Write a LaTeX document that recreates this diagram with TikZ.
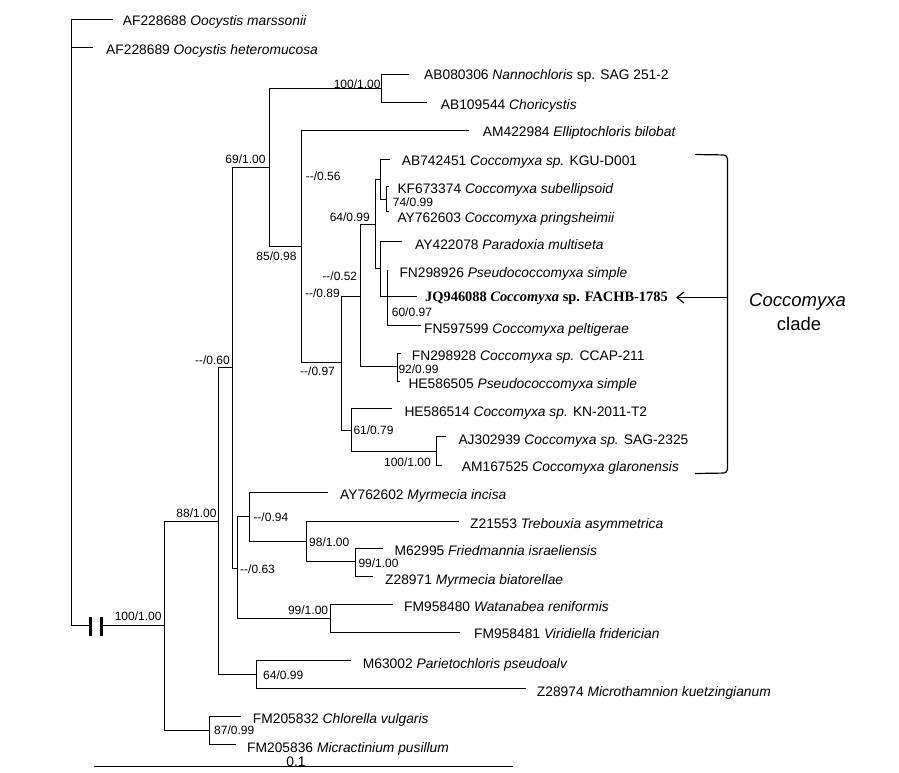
\documentclass[tikz,border=0pt]{standalone}
\usepackage{fontspec}
\setmainfont{Liberation Sans}
\newfontfamily\timesf{Liberation Serif}
\usetikzlibrary{arrows.meta}
\begin{document}
\begin{tikzpicture}[x=1pt,y=-1pt,
  treeline/.style={line width=1.6pt, line cap=rect},
  leaflabel/.style={anchor=west, inner sep=0pt, font=\fontsize{13.8}{16}\selectfont, text height=10pt, text depth=0pt},
  supp/.style={inner sep=0pt, font=\fontsize{12}{14}\selectfont, text height=8.6pt, text depth=0pt},
  cladetext/.style={inner sep=0pt, font=\fontsize{18.5}{22}\selectfont}]
\useasboundingbox (0,0) rectangle (899,773);
% ---------- internal nodes ----------
\coordinate (root) at (71.5,625.5);
\coordinate (brkA) at (90.5,625.5);
\coordinate (brkB) at (101.5,625.5);
\coordinate (nA) at (164.5,625.5);
\coordinate (nB) at (218.5,521.5);
\coordinate (nC) at (209.5,730.5);
\coordinate (nD) at (232.5,367.5);
\coordinate (nP) at (256.5,674.5);
\coordinate (nI) at (269.5,167.5);
\coordinate (nE) at (237.5,568.5);
\coordinate (nJ) at (381.5,88.5);
\coordinate (nK) at (301.5,246.5);
\coordinate (nL) at (341.5,362.5);
\coordinate (nM) at (360.5,296.5);
\coordinate (nO) at (375.5,224.5);
\coordinate (nQ) at (380.5,179.5);
\coordinate (nS) at (386.5,199.5);
\coordinate (nT) at (380.5,268.5);
\coordinate (nU) at (387.5,296.5);
\coordinate (nN) at (397.5,366.5);
\coordinate (nR) at (351.5,430.5);
\coordinate (nV) at (436.5,451.5);
\coordinate (nF) at (249.5,516.5);
\coordinate (nG) at (306.5,541.5);
\coordinate (nH) at (355.5,561.5);
\coordinate (nW) at (330.5,618.5);
% ---------- leaf ends ----------
\coordinate (l1) at (112.5,19.5);
\coordinate (l2) at (92.5,47.5);
\coordinate (l3) at (408.5,74.5);
\coordinate (l4) at (426.5,102.5);
\coordinate (l5) at (468.5,130.5);
\coordinate (l6) at (389.5,159.5);
\coordinate (l7) at (388.5,186.5);
\coordinate (l8) at (388.5,211.5);
\coordinate (l9) at (401.5,241.5);
\coordinate (l10) at (387.5,270.5);
\coordinate (l11) at (416.5,296.5);
\coordinate (l12) at (420.5,325.5);
\coordinate (l13) at (400.5,353.5);
\coordinate (l14) at (399.5,381.5);
\coordinate (l15) at (391.5,408.5);
\coordinate (l16) at (445.5,436.5);
\coordinate (l17) at (441.5,465.5);
\coordinate (l18) at (327.5,492.5);
\coordinate (l19) at (458.5,521.5);
\coordinate (l20) at (382.5,548.5);
\coordinate (l21) at (372.5,576.5);
\coordinate (l22) at (392.5,604.5);
\coordinate (l23) at (459.5,632.5);
\coordinate (l24) at (350.5,660.5);
\coordinate (l25) at (525.5,688.5);
\coordinate (l26) at (240.5,716.5);
\coordinate (l27) at (235.5,744.5);
% ---------- branches ----------
\draw[treeline] (l1) -| (root);
\draw[treeline] (l2) -- (l2 -| root);
\draw[treeline] (root) -- (brkA);
\draw[treeline] (brkB) -- (nA);
\draw[line width=2.2pt] ([yshift=-10pt]brkA) -- ([yshift=9pt]brkA);
\draw[line width=2.2pt] ([yshift=-10pt]brkB) -- ([yshift=9pt]brkB);
\draw[treeline] (nB) -| (nA) |- (nC);
\draw[treeline] (l26) -| (nC) |- (l27);
\draw[treeline] (nD) -| (nB) |- (nP);
\draw[treeline] (l24) -| (nP) |- (l25);
\draw[treeline] (nI) -| (nD) |- (nE);
\draw[treeline] (nJ) -| (nI) |- (nK);
\draw[treeline] (l3) -| (nJ) |- (l4);
\draw[treeline] (l5) -| (nK) |- (nL);
\draw[treeline] (nM) -| (nL) |- (nR);
\draw[treeline] (nO) -| (nM) |- (nN);
\draw[treeline] (nQ) -| (nO) |- (nT);
\draw[treeline] (l6) -| (nQ) |- (nS);
\draw[treeline] (l7) -| (nS) |- (l8);
\draw[treeline] (l9) -| (nT) |- (nU);
\draw[treeline] (l10) -- (nU) |- (l12);
\draw[treeline] (nU) -- (l11);
\draw[treeline] (l13) -| (nN) |- (l14);
\draw[treeline] (l15) -| (nR) |- (nV);
\draw[treeline] (l16) -| (nV) |- (l17);
\draw[treeline] (nF) -| (nE) |- (nW);
\draw[treeline] (l18) -| (nF) |- (nG);
\draw[treeline] (l19) -| (nG) |- (nH);
\draw[treeline] (l20) -| (nH) |- (l21);
\draw[treeline] (l22) -| (nW) |- (l23);
% ---------- leaf labels ----------
\node[leaflabel] (t1) at (122.7,20.7) {AF228688 \textit{Oocystis marssonii}};
\node[leaflabel] (t2) at (106,49.3) {AF228689 \textit{Oocystis heteromucosa}};
\node[leaflabel] (t3) at (424,75) {AB080306 \textit{Nannochloris} sp. SAG 251-2};
\node[leaflabel] (t4) at (440.7,105) {AB109544 \textit{Choricystis}};
\node[leaflabel] (t5) at (482.7,131.7) {AM422984 \textit{Elliptochloris bilobat}};
\node[leaflabel] (t6) at (401.7,160.7) {AB742451 \textit{Coccomyxa sp.} KGU-D001};
\node[leaflabel] (t7) at (397.3,188.3) {KF673374 \textit{Coccomyxa subellipsoid}};
\node[leaflabel] (t8) at (397.3,217.3) {AY762603 \textit{Coccomyxa pringsheimii}};
\node[leaflabel] (t9) at (415,244) {AY422078 \textit{Paradoxia multiseta}};
\node[leaflabel] (t10) at (399.3,272.7) {FN298926 \textit{Pseudococcomyxa simple}};
\node[leaflabel, font=\timesf\bfseries\fontsize{14.4}{17}\selectfont] (t11) at (425,296.7) {JQ946088 \textit{Coccomyxa} sp. FACHB-1785};
\node[leaflabel] (t12) at (424,328.3) {FN597599 \textit{Coccomyxa peltigerae}};
\node[leaflabel] (t13) at (411.7,355.7) {FN298928 \textit{Coccomyxa sp.} CCAP-211};
\node[leaflabel] (t14) at (408.3,383.3) {HE586505 \textit{Pseudococcomyxa simple}};
\node[leaflabel] (t15) at (404.3,411.7) {HE586514 \textit{Coccomyxa sp.} KN-2011-T2};
\node[leaflabel] (t16) at (458.3,439) {AJ302939 \textit{Coccomyxa sp.} SAG-2325};
\node[leaflabel] (t17) at (461.7,466.7) {AM167525 \textit{Coccomyxa glaronensis}};
\node[leaflabel] (t18) at (340,494.3) {AY762602 \textit{Myrmecia incisa}};
\node[leaflabel] (t19) at (470,523.3) {Z21553 \textit{Trebouxia asymmetrica}};
\node[leaflabel] (t20) at (394.3,550) {M62995 \textit{Friedmannia israeliensis}};
\node[leaflabel] (t21) at (385,579.3) {Z28971 \textit{Myrmecia biatorellae}};
\node[leaflabel] (t22) at (404,606) {FM958480 \textit{Watanabea reniformis}};
\node[leaflabel] (t23) at (474,633.3) {FM958481 \textit{Viridiella friderician}};
\node[leaflabel] (t24) at (362.7,663) {M63002 \textit{Parietochloris pseudoalv}};
\node[leaflabel] (t25) at (536.7,691) {Z28974 \textit{Microthamnion kuetzingianum}};
\node[leaflabel] (t26) at (252.7,718) {FM205832 \textit{Chlorella vulgaris}};
\node[leaflabel] (t27) at (247,747) {FM205836 \textit{Micractinium pusillum}};
% ---------- support values ----------
\node[supp, anchor=east] (s1) at (161.7,616) {100/1.00};
\node[supp, anchor=east] (s2) at (216.7,512.7) {88/1.00};
\node[supp, anchor=west] (s3) at (214,730) {87/0.99};
\node[supp, anchor=east] (s4) at (230,360) {-{}-/0.60};
\node[supp, anchor=west] (s5) at (263,675) {64/0.99};
\node[supp, anchor=east] (s6) at (265.7,159.3) {69/1.00};
\node[supp, anchor=west] (s7) at (240,569) {-{}-/0.63};
\node[supp, anchor=west] (s8) at (253.3,516.7) {-{}-/0.94};
\node[supp, anchor=west] (s9) at (309,541.7) {98/1.00};
\node[supp, anchor=west] (s10) at (358.3,563.3) {99/1.00};
\node[supp, anchor=east] (s11) at (328.3,610) {99/1.00};
\node[supp, anchor=east] (s12) at (380.7,84) {100/1.00};
\node[supp, anchor=east] (s13) at (296.7,256) {85/0.98};
\node[supp, anchor=west] (s14) at (305.7,176) {-{}-/0.56};
\node[supp, anchor=west] (s15) at (300,371.5) {-{}-/0.97};
\node[supp, anchor=east] (s16) at (340,292.7) {-{}-/0.89};
\node[supp, anchor=east] (s17) at (357.3,276) {-{}-/0.52};
\node[supp, anchor=east] (s18) at (370,217.3) {64/0.99};
\node[supp, anchor=west] (s19) at (392.7,201.7) {74/0.99};
\node[supp, anchor=west] (s20) at (391.7,312.3) {60/0.97};
\node[supp, anchor=west] (s21) at (398.3,369.3) {92/0.99};
\node[supp, anchor=west] (s22) at (353.3,430) {61/0.79};
\node[supp, anchor=east] (s23) at (431,461.7) {100/1.00};
% ---------- clade bracket ----------
\coordinate (bt) at (695,154.5);
\coordinate (bb) at (695,473.5);
\coordinate (bm) at (727.5,297.5);
\coordinate (atip) at (676,297.5);
\draw[line width=1.2pt, rounded corners=4pt] (bt) -- (727.5,155) -- (727.5,473) -- (bb);
\draw[line width=1.2pt, -{Straight Barb[length=7pt,width=11pt]}] (bm) -- (atip);
\node[cladetext, font=\itshape\fontsize{18.5}{22}\selectfont] (ct1) at (797.5,302.3) {Coccomyxa};
\node[cladetext] (ct2) at (799,324.3) {clade};
% ---------- scale bar ----------
\coordinate (sb1) at (94,766.5);
\coordinate (sb2) at (513,766.5);
\draw[line width=1.6pt] (sb1) -- (sb2);
\node[supp, font=\fontsize{13.8}{16}\selectfont, text height=10pt] (sbl) at (296,761.5) {0.1};
\end{tikzpicture}
\end{document}
